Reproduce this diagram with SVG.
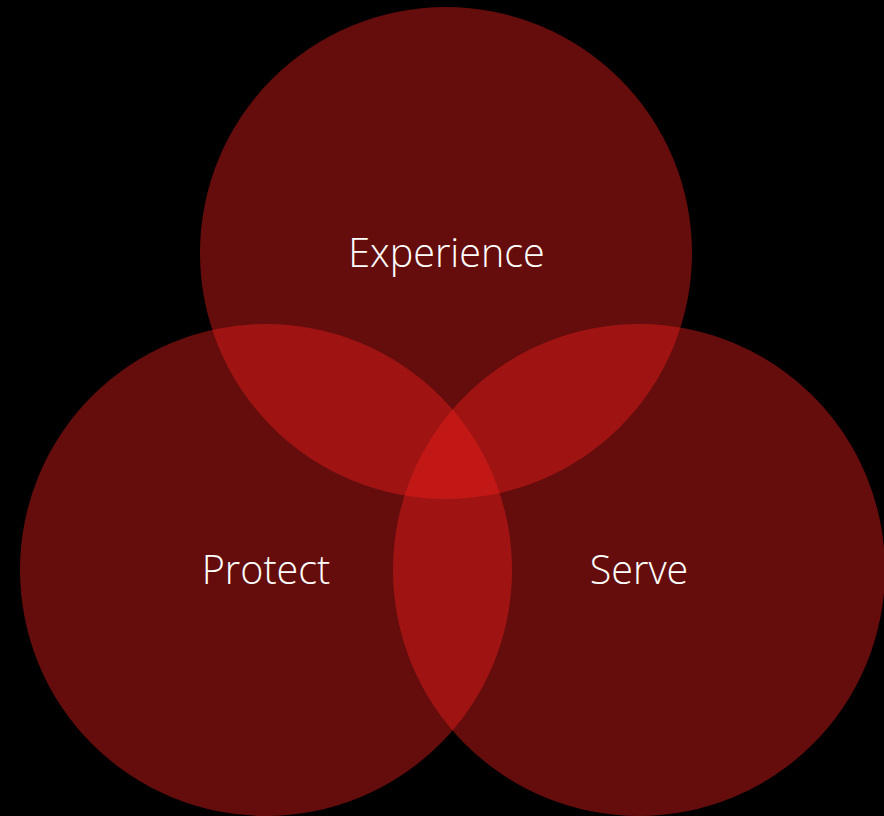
<svg xmlns="http://www.w3.org/2000/svg" width="884" height="816" viewBox="0 0 884 816">
<style>
.c{fill:#f01e1c;fill-opacity:0.42}
.t{font-family:"Open Sans","Liberation Sans",sans-serif;font-weight:300;font-size:39.5px;fill:#ffffff;text-anchor:middle}
</style>
<rect width="884" height="816" fill="#000"/>
<g id="experience"><circle class="c" cx="446" cy="253" r="246"/><text class="t" x="446.5" y="267">Experience</text></g>
<g id="protect"><circle class="c" cx="266" cy="570" r="246"/><text class="t" x="266" y="584">Protect</text></g>
<g id="serve"><circle class="c" cx="639" cy="570" r="246"/><text class="t" x="639" y="584">Serve</text></g>
<g id="connectors"/>
</svg>
